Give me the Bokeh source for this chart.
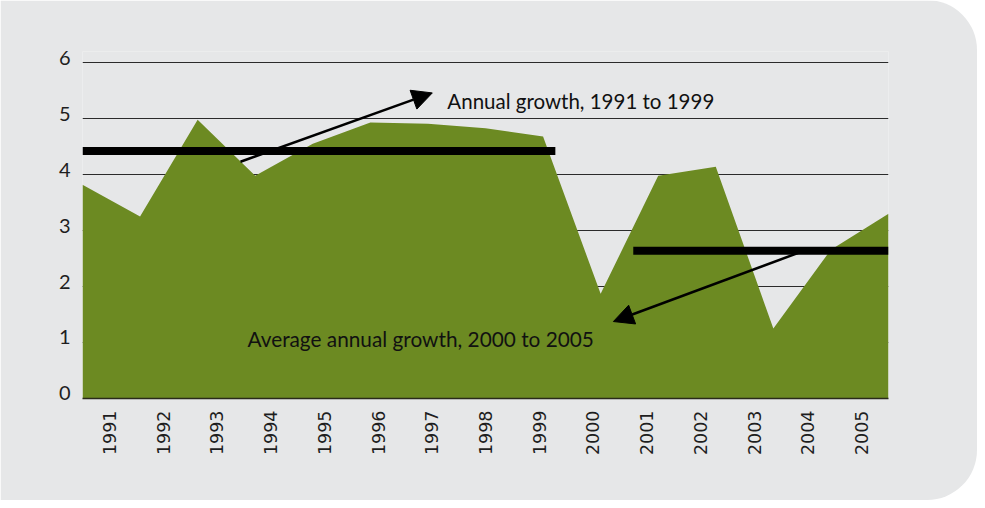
import math
from bokeh.plotting import figure
from bokeh.models import Range1d, FixedTicker, LinearAxis, Arrow, NormalHead, Label
from bokeh.embed import file_html
from bokeh.resources import INLINE

# ---- data ----
years = list(range(1991, 2006))
growth = [3.82, 3.25, 4.98, 3.98, 4.55, 4.93, 4.91, 4.83, 4.68,
          1.87, 3.98, 4.14, 1.25, 2.66, 3.30]
year_labels = {y: str(y) for y in years}
y_ticks = [0, 1, 2, 3, 4, 5, 6]

avg_names = ["Annual growth, 1991 to 1999", "Average annual growth, 2000 to 2005"]
avg_value = [4.42, 2.64]
avg_from = [1990.5, 2000.75]
avg_to = [1999.3, 2005.5]

BG = "#e6e7e8"
GREEN = "#6c8a22"
FONT = "Lato"

p = figure(width=977, height=500, output_backend="svg", toolbar_location=None,
           x_range=Range1d(1990.5, 2005.5), y_range=Range1d(0, 6.2),
           min_border_left=82, min_border_right=89, min_border_top=51,
           min_border_bottom=102)
p.styles = {"border-radius": "0 50px 50px 0", "overflow": "hidden"}
p.background_fill_color = BG
p.border_fill_color = BG
p.outline_line_color = None

# area drawn on its own x-range: points spread from the left to the right frame edge
p.extra_x_ranges = {"pts": Range1d(years[0], years[-1])}
p.varea(x=years, y1=0, y2=growth, x_range_name="pts", fill_color=GREEN)

# average bars
p.segment(x0=avg_from, y0=avg_value, x1=avg_to, y1=avg_value,
          line_width=8, line_color="black", line_cap="butt")

# grid
p.xgrid.visible = False
p.ygrid.ticker = FixedTicker(ticks=y_ticks)
p.ygrid.grid_line_color = "#2b2b2b"
p.ygrid.grid_line_width = 1.2

# x axis
xa = p.xaxis[0]
xa.ticker = FixedTicker(ticks=years)
xa.major_label_overrides = year_labels
xa.major_label_orientation = math.pi / 2
xa.major_tick_line_color = None
xa.minor_tick_line_color = None
xa.major_tick_out = 0
xa.major_label_standoff = 12
xa.axis_line_color = "#2a2a1a"
xa.axis_line_width = 1.5
xa.major_label_text_font = "DejaVu Sans"
xa.major_label_text_font_size = "17.5px"
xa.major_label_text_color = "#1e1e1e"

# y axis: labels sit slightly above their grid lines
p.yaxis[0].visible = False
p.extra_y_ranges = {"lab": Range1d(-0.09, 6.11)}
ya = LinearAxis(y_range_name="lab", ticker=FixedTicker(ticks=y_ticks))
ya.axis_line_color = None
ya.major_tick_line_color = None
ya.minor_tick_line_color = None
ya.major_tick_out = 0
ya.major_label_standoff = 12
ya.major_label_text_font = FONT
ya.major_label_text_font_size = "20px"
ya.major_label_text_color = "#1e1e1e"
p.add_layout(ya, "left")

# arrows
p.add_layout(Arrow(end=NormalHead(size=20, fill_color="black", line_color="black"),
                   x_start=1993.44, y_start=4.23, x_end=1997.01, y_end=5.46,
                   line_width=2.5, line_color="black"))
p.add_layout(Arrow(end=NormalHead(size=20, fill_color="black", line_color="black"),
                   x_start=2003.9, y_start=2.63, x_end=2000.38, y_end=1.375,
                   line_width=2.5, line_color="black"))

# annotation texts
p.add_layout(Label(x=1997.29, y=5.32, text=avg_names[0], text_font=FONT,
                   text_font_size="20.5px", text_color="#111111",
                   text_baseline="alphabetic"))
p.add_layout(Label(x=1993.57, y=1.077, text=avg_names[1], text_font=FONT,
                   text_font_size="20.8px", text_color="#111111",
                   text_baseline="alphabetic"))

open("out.html", "w").write(file_html(p, INLINE))
